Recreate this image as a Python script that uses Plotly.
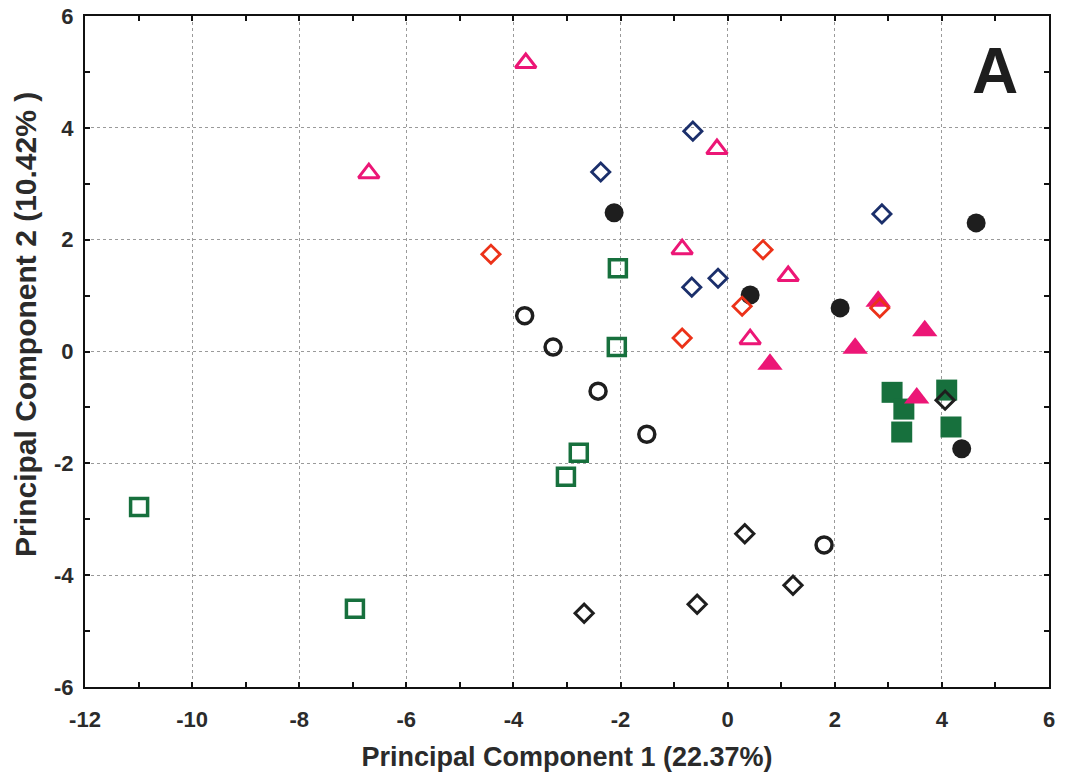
import plotly.graph_objects as go

# PCA scores (PC1, PC2) per sample group
black_open_circle_x = [-3.79, -3.26, -2.42, -1.51, 1.80]
black_open_circle_y = [0.64, 0.08, -0.71, -1.48, -3.46]

black_open_diamond_x = [0.32, 1.22, -0.57, -2.68, 4.06]
black_open_diamond_y = [-3.26, -4.18, -4.52, -4.68, -0.87]

black_filled_circle_x = [-2.12, 0.42, 2.10, 4.64, 4.37]
black_filled_circle_y = [2.48, 1.01, 0.78, 2.30, -1.74]

blue_open_diamond_x = [-2.37, -0.65, -0.67, -0.18, 2.88]
blue_open_diamond_y = [3.21, 3.94, 1.15, 1.31, 2.46]

red_open_diamond_x = [-4.42, 0.66, 0.27, -0.85, 2.84]
red_open_diamond_y = [1.74, 1.82, 0.81, 0.24, 0.78]

pink_open_triangle_x = [-3.77, -6.70, -0.85, -0.20, 1.13, 0.42]
pink_open_triangle_y = [5.16, 3.19, 1.83, 3.62, 1.35, 0.22]

pink_filled_triangle_x = [0.79, 2.38, 3.68, 2.81, 3.53]
pink_filled_triangle_y = [-0.23, 0.06, 0.37, 0.90, -0.83]

green_open_square_x = [-2.05, -2.07, -2.78, -3.02, -10.99, -6.96]
green_open_square_y = [1.49, 0.08, -1.81, -2.24, -2.78, -4.60]

green_filled_square_x = [3.07, 3.29, 3.25, 4.09, 4.17]
green_filled_square_y = [-0.73, -1.03, -1.44, -0.69, -1.35]

x_ticks = [-12, -10, -8, -6, -4, -2, 0, 2, 4, 6]
y_ticks = [-6, -4, -2, 0, 2, 4, 6]

BLACK = "#1e1e1e"
NAVY = "#1b2f6b"
RED = "#ec3219"
PINK = "#ec1676"
GREEN = "#17703d"

fig = go.Figure()


def add_group(xs, ys, symbol, color, size, line_w):
    fig.add_trace(go.Scatter(
        x=xs, y=ys, mode="markers", showlegend=False,
        marker=dict(symbol=symbol, size=size, color=color,
                    line=dict(color=color, width=line_w)),
    ))


add_group(green_open_square_x, green_open_square_y, "square-open", GREEN, 17, 3.5)
add_group(green_filled_square_x, green_filled_square_y, "square", GREEN, 21, 0)
add_group(black_open_circle_x, black_open_circle_y, "circle-open", BLACK, 16, 3.5)
add_group(black_open_diamond_x, black_open_diamond_y, "diamond-open", BLACK, 14, 3)
add_group(black_filled_circle_x, black_filled_circle_y, "circle", BLACK, 19, 0)
add_group(blue_open_diamond_x, blue_open_diamond_y, "diamond-open", NAVY, 14, 2.8)
add_group(pink_open_triangle_x, pink_open_triangle_y, "triangle-up-open", PINK, 18, 3)
add_group(pink_filled_triangle_x, pink_filled_triangle_y, "triangle-up", PINK, 22, 0)
add_group(red_open_diamond_x, red_open_diamond_y, "diamond-open", RED, 14, 2.8)

tick_font = dict(family="Liberation Sans, Arial", size=22, weight="bold", color="#2b2b2b")
title_font = dict(family="Liberation Sans, Arial", size=27, weight="bold", color="#2b2b2b")

axis_common = dict(
    showline=True, linecolor="#111111", linewidth=2, mirror="ticks",
    ticks="inside", ticklen=5, tickwidth=2, tickcolor="#111111",
    showgrid=True, gridcolor="#9a9a9a", gridwidth=1, griddash="dot",
    zeroline=False, tickfont=tick_font, automargin=False,
    minor=dict(ticks="inside", ticklen=5, tickwidth=2, tickcolor="#111111",
               dtick=1, showgrid=False),
)

fig.update_xaxes(
    range=[-12, 6], tickvals=x_ticks, ticktext=[str(v) for v in x_ticks],
    title=dict(text="Principal Component 1 (22.37%)", font=title_font, standoff=16),
    ticklabelstandoff=12, **axis_common,
)
fig.update_yaxes(
    range=[-6, 6], tickvals=y_ticks, ticktext=[str(v) for v in y_ticks],
    ticklabelstandoff=5, **axis_common,
)

# vertical axis title, set slightly above the plot's middle
fig.add_annotation(
    text="Principal Component 2 (10.42% )", xref="paper", yref="paper",
    x=-0.062, y=0.54, xanchor="center", yanchor="middle", textangle=-90,
    showarrow=False, font=dict(title_font, size=30),
)

fig.add_annotation(
    text="A", xref="paper", yref="paper", x=0.944, y=0.918,
    xanchor="center", yanchor="middle", showarrow=False,
    font=dict(family="Liberation Sans, Arial", size=64, weight="bold", color="#1e1e1e"),
)

fig.update_layout(
    width=1070, height=780,
    margin=dict(l=85, r=21, t=16, b=93),
    plot_bgcolor="white", paper_bgcolor="white",
)

fig.write_html("out.html")
